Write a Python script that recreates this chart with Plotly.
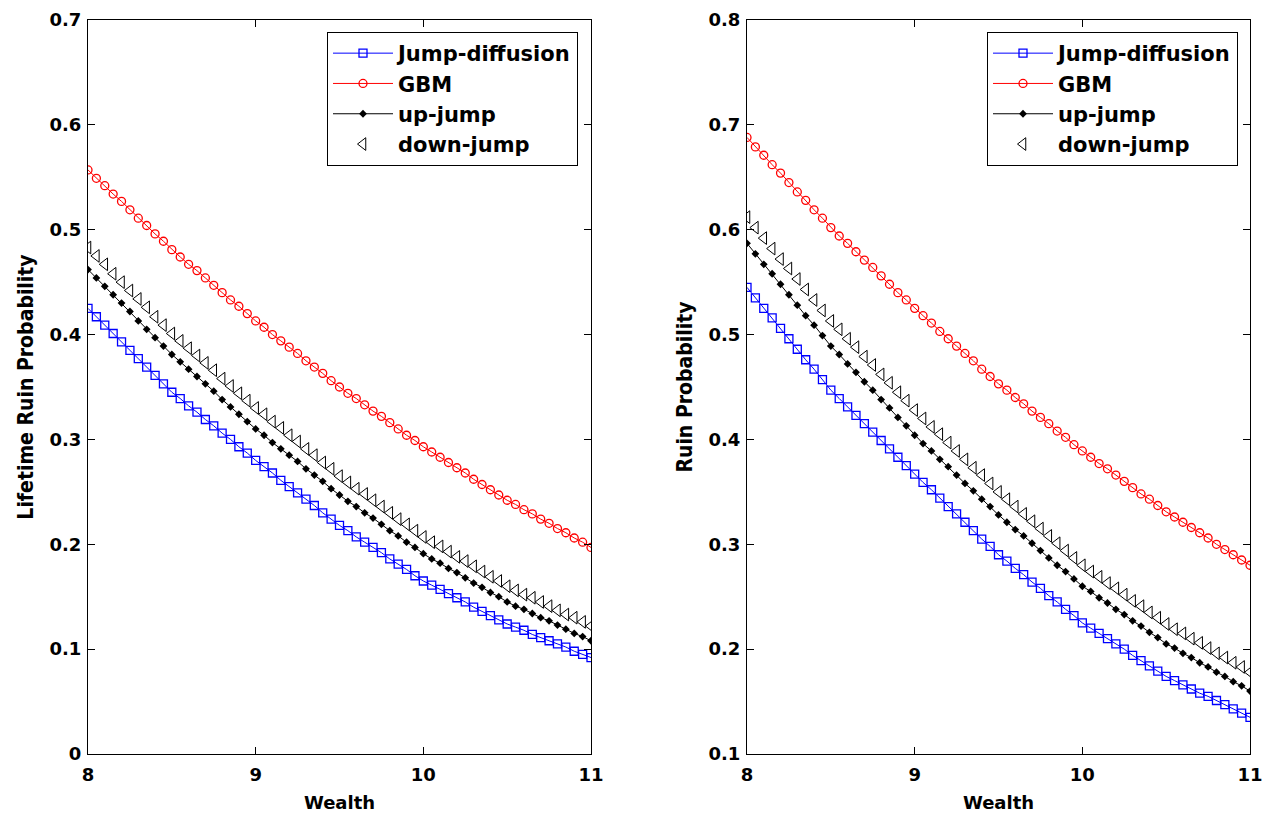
import plotly.graph_objects as go

wealth = [8.00, 8.05, 8.10, 8.15, 8.20, 8.25, 8.30, 8.35, 8.40, 8.45,
          8.50, 8.55, 8.60, 8.65, 8.70, 8.75, 8.80, 8.85, 8.90, 8.95,
          9.00, 9.05, 9.10, 9.15, 9.20, 9.25, 9.30, 9.35, 9.40, 9.45,
          9.50, 9.55, 9.60, 9.65, 9.70, 9.75, 9.80, 9.85, 9.90, 9.95,
          10.00, 10.05, 10.10, 10.15, 10.20, 10.25, 10.30, 10.35, 10.40, 10.45,
          10.50, 10.55, 10.60, 10.65, 10.70, 10.75, 10.80, 10.85, 10.90, 10.95,
          11.00]

# Left panel: Lifetime ruin probability
left_jump_diffusion = [
    0.425, 0.417, 0.409, 0.401, 0.393, 0.385, 0.377, 0.369, 0.361, 0.353,
    0.345, 0.339, 0.332, 0.326, 0.319, 0.313, 0.306, 0.300, 0.293, 0.287,
    0.280, 0.274, 0.268, 0.261, 0.255, 0.249, 0.243, 0.237, 0.230, 0.224,
    0.218, 0.213, 0.207, 0.202, 0.197, 0.192, 0.186, 0.181, 0.176, 0.170,
    0.165, 0.161, 0.157, 0.153, 0.149, 0.145, 0.140, 0.136, 0.132, 0.128,
    0.124, 0.121, 0.118, 0.114, 0.111, 0.108, 0.105, 0.102, 0.098, 0.095,
    0.092]
left_gbm = [
    0.557, 0.549, 0.542, 0.534, 0.527, 0.519, 0.511, 0.504, 0.496, 0.489,
    0.481, 0.474, 0.467, 0.461, 0.454, 0.447, 0.440, 0.433, 0.427, 0.420,
    0.413, 0.407, 0.400, 0.394, 0.388, 0.382, 0.375, 0.369, 0.363, 0.356,
    0.350, 0.344, 0.339, 0.333, 0.327, 0.322, 0.316, 0.310, 0.304, 0.299,
    0.293, 0.288, 0.283, 0.278, 0.273, 0.268, 0.262, 0.257, 0.252, 0.247,
    0.242, 0.238, 0.233, 0.229, 0.224, 0.220, 0.215, 0.211, 0.206, 0.202,
    0.197]
left_up_jump = [
    0.462, 0.454, 0.446, 0.438, 0.430, 0.422, 0.413, 0.405, 0.397, 0.389,
    0.381, 0.374, 0.367, 0.360, 0.353, 0.346, 0.338, 0.331, 0.324, 0.317,
    0.310, 0.304, 0.297, 0.291, 0.285, 0.279, 0.272, 0.266, 0.260, 0.253,
    0.247, 0.241, 0.236, 0.230, 0.225, 0.219, 0.213, 0.208, 0.202, 0.197,
    0.191, 0.186, 0.182, 0.177, 0.173, 0.168, 0.163, 0.159, 0.154, 0.150,
    0.145, 0.141, 0.138, 0.134, 0.130, 0.127, 0.123, 0.119, 0.115, 0.112,
    0.108]
left_down_jump = [
    0.483, 0.475, 0.467, 0.458, 0.450, 0.442, 0.434, 0.426, 0.417, 0.409,
    0.401, 0.394, 0.387, 0.380, 0.373, 0.366, 0.358, 0.351, 0.344, 0.337,
    0.330, 0.324, 0.317, 0.311, 0.304, 0.298, 0.291, 0.285, 0.278, 0.272,
    0.265, 0.259, 0.253, 0.248, 0.242, 0.236, 0.230, 0.224, 0.219, 0.213,
    0.207, 0.202, 0.198, 0.193, 0.188, 0.184, 0.179, 0.174, 0.169, 0.165,
    0.160, 0.156, 0.152, 0.149, 0.145, 0.141, 0.137, 0.133, 0.130, 0.126,
    0.122]

# Right panel: Ruin probability
right_jump_diffusion = [
    0.545, 0.535, 0.525, 0.516, 0.506, 0.496, 0.486, 0.476, 0.467, 0.457,
    0.447, 0.439, 0.431, 0.423, 0.415, 0.407, 0.399, 0.391, 0.383, 0.375,
    0.367, 0.359, 0.352, 0.344, 0.336, 0.329, 0.321, 0.313, 0.305, 0.298,
    0.290, 0.284, 0.277, 0.271, 0.264, 0.258, 0.251, 0.245, 0.238, 0.232,
    0.225, 0.220, 0.215, 0.210, 0.205, 0.200, 0.194, 0.189, 0.184, 0.179,
    0.174, 0.170, 0.166, 0.162, 0.158, 0.155, 0.151, 0.147, 0.143, 0.139,
    0.135]
right_gbm = [
    0.688, 0.679, 0.671, 0.662, 0.654, 0.645, 0.636, 0.628, 0.619, 0.611,
    0.602, 0.594, 0.587, 0.579, 0.571, 0.564, 0.556, 0.548, 0.540, 0.533,
    0.525, 0.518, 0.511, 0.503, 0.496, 0.489, 0.482, 0.475, 0.467, 0.460,
    0.453, 0.447, 0.440, 0.434, 0.427, 0.421, 0.415, 0.408, 0.402, 0.395,
    0.389, 0.383, 0.377, 0.372, 0.366, 0.360, 0.354, 0.348, 0.343, 0.337,
    0.331, 0.326, 0.321, 0.316, 0.311, 0.306, 0.300, 0.295, 0.290, 0.285,
    0.280]
right_up_jump = [
    0.587, 0.577, 0.567, 0.558, 0.548, 0.538, 0.528, 0.518, 0.509, 0.499,
    0.489, 0.481, 0.472, 0.464, 0.455, 0.447, 0.438, 0.430, 0.421, 0.413,
    0.404, 0.396, 0.389, 0.381, 0.374, 0.366, 0.358, 0.351, 0.343, 0.336,
    0.328, 0.321, 0.314, 0.308, 0.301, 0.294, 0.287, 0.280, 0.274, 0.267,
    0.260, 0.255, 0.249, 0.244, 0.238, 0.233, 0.227, 0.222, 0.216, 0.211,
    0.205, 0.201, 0.196, 0.192, 0.187, 0.183, 0.178, 0.174, 0.169, 0.165,
    0.160]
right_down_jump = [
    0.612, 0.602, 0.592, 0.582, 0.572, 0.563, 0.553, 0.543, 0.533, 0.523,
    0.513, 0.505, 0.496, 0.488, 0.479, 0.471, 0.462, 0.454, 0.445, 0.437,
    0.428, 0.420, 0.412, 0.405, 0.397, 0.389, 0.381, 0.373, 0.366, 0.358,
    0.350, 0.343, 0.336, 0.329, 0.322, 0.315, 0.308, 0.301, 0.294, 0.287,
    0.280, 0.274, 0.269, 0.263, 0.258, 0.252, 0.246, 0.241, 0.235, 0.230,
    0.224, 0.219, 0.215, 0.210, 0.206, 0.201, 0.196, 0.192, 0.187, 0.183,
    0.178]

series_names = ["Jump-diffusion", "GBM", "up-jump", "down-jump"]
x_ticks = [8, 9, 10, 11]

FONT = "DejaVu Sans, Liberation Sans, Arial, sans-serif"
NARROW = "Liberation Sans Narrow, DejaVu Sans Condensed, Liberation Sans, sans-serif"

def add_panel(fig, data, xa, ya, legend):
    jd, gbm, up, down = data
    fig.add_trace(go.Scatter(
        x=wealth, y=jd, name=series_names[0], mode="lines+markers",
        line=dict(color="#0000FF", width=1),
        marker=dict(symbol="square-open", size=8, color="#0000FF", line=dict(width=1.3)),
        xaxis=xa, yaxis=ya, legend=legend))
    fig.add_trace(go.Scatter(
        x=wealth, y=gbm, name=series_names[1], mode="lines+markers",
        line=dict(color="#FF0000", width=1),
        marker=dict(symbol="circle-open", size=8, color="#FF0000", line=dict(width=1.3)),
        xaxis=xa, yaxis=ya, legend=legend))
    fig.add_trace(go.Scatter(
        x=wealth, y=up, name=series_names[2], mode="lines+markers",
        line=dict(color="#000000", width=1),
        marker=dict(symbol="diamond", size=6, color="#000000"),
        xaxis=xa, yaxis=ya, legend=legend))
    fig.add_trace(go.Scatter(
        x=wealth, y=down, name=series_names[3], mode="markers",
        marker=dict(symbol="triangle-left-open", size=11, color="#000000", line=dict(width=1)),
        xaxis=xa, yaxis=ya, legend=legend))

fig = go.Figure()
add_panel(fig, (left_jump_diffusion, left_gbm, left_up_jump, left_down_jump), "x", "y", "legend")
add_panel(fig, (right_jump_diffusion, right_gbm, right_up_jump, right_down_jump), "x2", "y2", "legend2")

ydom = [1 - 754 / 825, 1 - 20 / 825]
axis_common = dict(
    showline=True, linecolor="black", linewidth=1, mirror="allticks",
    ticks="inside", ticklen=7, tickcolor="black", showgrid=False, zeroline=False,
    automargin=False,
    tickfont=dict(family=FONT, size=18, color="black", weight="bold"),
)
xtitle_font = dict(family=FONT, size=18, color="black", weight="bold")
ytitle_font = dict(family=NARROW, size=21, color="black", weight="bold")

legend_common = dict(
    bgcolor="white", bordercolor="black", borderwidth=1,
    font=dict(family=FONT, size=21, color="black", weight="bold"),
    xanchor="right", yanchor="top", y=1 - 32 / 825,
    tracegroupgap=0, itemwidth=60,
)

fig.update_layout(
    autosize=True,
    template="none",
    margin=dict(l=0, r=0, t=0, b=0, pad=0),
    paper_bgcolor="white", plot_bgcolor="white",
    xaxis=dict(domain=[88 / 1268, 1 - 677 / 1268], range=[8, 11], tickvals=x_ticks,
               ticklabelstandoff=4,
               title=dict(text="Wealth", font=xtitle_font, standoff=12), anchor="y", **axis_common),
    yaxis=dict(domain=ydom, range=[0, 0.7], dtick=0.1, tick0=0, ticklabelstandoff=2,
               title=dict(text="Lifetime Ruin Probability", font=ytitle_font, standoff=10),
               anchor="x", **axis_common),
    xaxis2=dict(domain=[747 / 1268, 1250 / 1268], range=[8, 11], tickvals=x_ticks,
                ticklabelstandoff=4,
                title=dict(text="Wealth", font=xtitle_font, standoff=12), anchor="y2", **axis_common),
    yaxis2=dict(domain=ydom, range=[0.1, 0.8], dtick=0.1, tick0=0.1, ticklabelstandoff=2,
                title=dict(text="Ruin Probability", font=ytitle_font, standoff=10),
                anchor="x2", **axis_common),
    legend=dict(x=578 / 1268, **legend_common),
    legend2=dict(x=1238 / 1268, **legend_common),
)

fig.write_html("out.html", config={"responsive": True})
